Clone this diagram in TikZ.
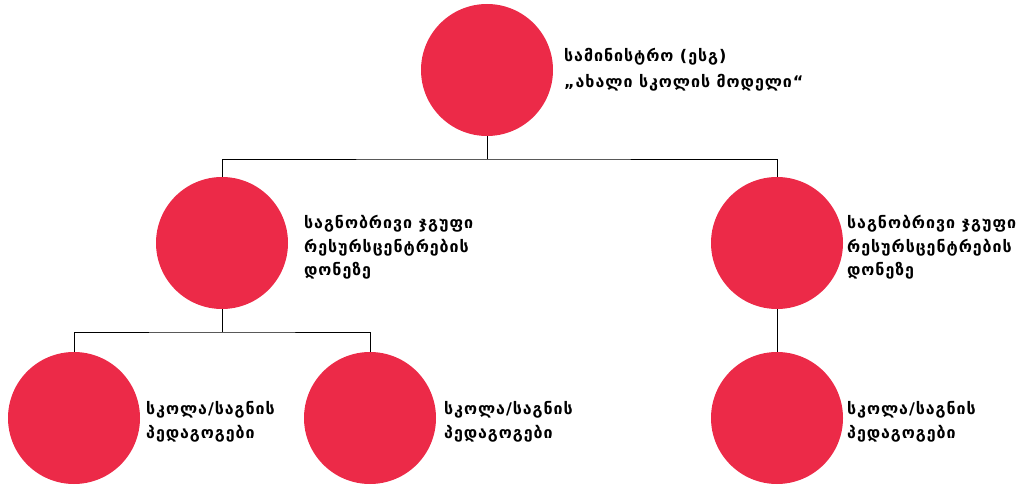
\documentclass[tikz,border=0pt]{standalone}
\usepackage{fontspec}
\newfontfamily\geo[LetterSpace=6]{DejaVu Sans}
\definecolor{dotred}{RGB}{236,42,72}
\begin{document}
\begin{tikzpicture}[x=1pt,y=-1pt,
  dot/.style={circle,fill=dotred,draw=none,minimum size=132pt,inner sep=0pt},
  lbl/.style={anchor=base west,inner sep=0pt,align=left,font=\geo\bfseries\fontsize{16}{23.5}\selectfont},
  link/.style={draw=black,line width=0.8pt}]
\useasboundingbox (0,0) rectangle (1034,486);
\node[dot] (top) at (487,70) {};
\node[dot] (ml) at (222,243) {};
\node[dot] (mr) at (777,243) {};
\node[dot] (b1) at (74,418) {};
\node[dot] (b2) at (370,418) {};
\node[dot] (b3) at (777,418) {};
\coordinate (j1) at (487,159);
\coordinate (j2) at (222,332);
\draw[link] (top.south) -- (j1);
\draw[link] (ml.north) |- (j1) -| (mr.north);
\draw[link] (ml.south) -- (j2);
\draw[link] (b1.north) |- (j2) -| (b2.north);
\draw[link] (mr.south) -- (b3.north);
\node[lbl,font=\geo\bfseries\fontsize{16}{26}\selectfont] (ttop) at (564,88) {სამინისტრო (ესგ)\\„ახალი სკოლის მოდელი“};
\node[lbl] (tml) at (304,276) {საგნობრივი ჯგუფი\\რესურსცენტრების\\დონეზე};
\node[lbl] (tmr) at (847,276) {საგნობრივი ჯგუფი\\რესურსცენტრების\\დონეზე};
\node[lbl] (tb1) at (146,438) {სკოლა/საგნის\\პედაგოგები};
\node[lbl] (tb2) at (444,438) {სკოლა/საგნის\\პედაგოგები};
\node[lbl] (tb3) at (847,438) {სკოლა/საგნის\\პედაგოგები};
\end{tikzpicture}
\end{document}
